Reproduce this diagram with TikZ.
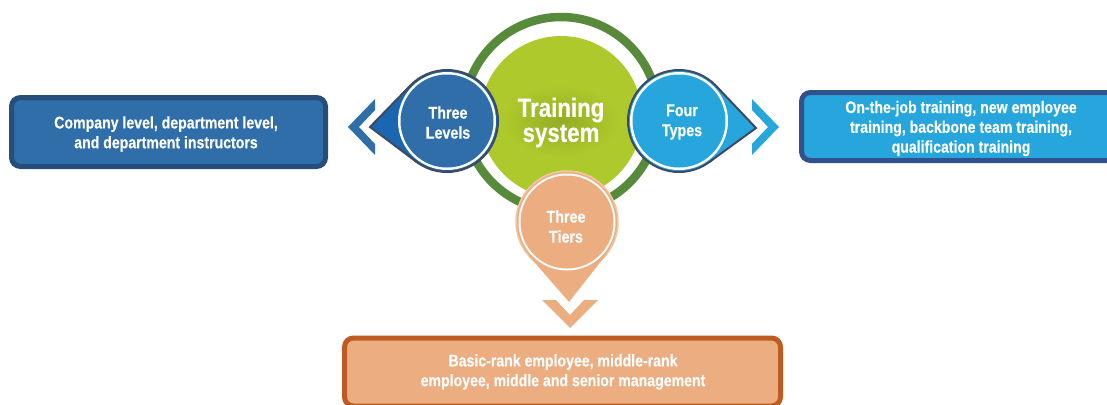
\documentclass[tikz,border=0pt]{standalone}
\usepackage{fontspec}
\setmainfont{Liberation Sans}
\newfontfamily\narrow[FakeStretch=0.84,FakeBold=0.3]{Liberation Sans}
\usetikzlibrary{calc}
\definecolor{ringgreen}{HTML}{578A3A}
\definecolor{diskgreen}{HTML}{AEC92B}
\definecolor{shadowgreen}{HTML}{95AD25}
\definecolor{lvblue}{HTML}{2F6EA9}
\definecolor{lvtip}{HTML}{1B66B0}
\definecolor{lvline}{HTML}{3D4A60}
\definecolor{ftblue}{HTML}{27A6DE}
\definecolor{tier}{HTML}{ECAD81}
\definecolor{tierline}{HTML}{F3C6A3}
\definecolor{lbborder}{HTML}{264E79}
\definecolor{rbborder}{HTML}{30518B}
\definecolor{bbborder}{HTML}{BE5B20}
\begin{document}
\begin{tikzpicture}[x=1pt,y=-1pt,
  boxstyle/.style={rounded corners=9pt, line width=5pt, align=center, text=white,
    font=\narrow\bfseries\fontsize{16.8}{19.8}\selectfont, inner sep=0pt},
  circstyle/.style={circle, inner sep=0pt, outer sep=0pt, minimum size=102pt},
  circtext/.style={text=white, align=center, font=\narrow\bfseries\fontsize{17}{20}\selectfont}
]
\useasboundingbox (0,0) rectangle (1107,404);
\clip (0,0) rectangle (1107,404);

% boxes
\node[boxstyle, draw=lbborder, fill=lvblue, minimum width=314pt, minimum height=69pt] (lb) at (168.5,132) {};
\node[boxstyle] (lbtext) at (166,134) {Company level, department level,\\and department instructors};
\node[boxstyle, draw=rbborder, fill=ftblue, minimum width=319pt, minimum height=68pt] (rb) at (961,126.5) {};
\node[boxstyle] (rbtext) at (961,128.5) {On-the-job training, new employee\\training, backbone team training,\\qualification training};
\node[boxstyle, draw=bbborder, fill=tier, minimum width=436pt, minimum height=68pt] (bb) at (562.5,372) {};
\node[boxstyle] (bbtext) at (563,372) {Basic-rank employee, middle-rank\\employee, middle and senior management};

% chevrons
\fill[lvblue] (375,99) -- (348,127) -- (375,155) -- (375,144) -- (359,127) -- (375,110) -- cycle;
\fill[ftblue] (752,99) -- (779,127) -- (752,155) -- (752,144) -- (768,127) -- (752,110) -- cycle;
\fill[tier] (542,300) -- (556,300) -- (570,315) -- (584,300) -- (598,300) -- (570,328) -- cycle;

% ring and central disk
\draw[ringgreen, line width=8.5pt] (561,114) circle[radius=97];
\node[circle, fill=diskgreen, minimum size=162pt, inner sep=0pt] (ts) at (561,117) {};
\shade[inner color=shadowgreen, outer color=diskgreen] (561,121) ellipse[x radius=58, y radius=36];
\node[text=white, align=center, font=\narrow\bfseries\fontsize{26.5}{25}\selectfont] (tstext) at (561,122.5) {Training\\system};

% Three Levels
\node[circstyle] (lv) at (447,121) {};
\coordinate (lvT) at (370,127);
\coordinate (lv1) at (tangent cs:node=lv,point={(lvT)},solution=1);
\coordinate (lv2) at (tangent cs:node=lv,point={(lvT)},solution=2);
\fill[lvtip, draw=lvline, line width=2pt] (lv) circle[radius=51];
\fill[lvtip] (lvT) -- (lv1) -- (lv.center) -- (lv2) -- cycle;
\draw[lvline, line width=2pt, line join=miter] (lv1) -- (lvT) -- (lv2);
\fill[white] (lv) circle[radius=49];
\fill[lvblue] (lv) circle[radius=46.5];
\node[circtext] (lvtext) at (448,122.5) {Three\\Levels};

% Four Types
\node[circstyle] (ft) at (679,121) {};
\coordinate (ftT) at (756,128);
\coordinate (ft1) at (tangent cs:node=ft,point={(ftT)},solution=1);
\coordinate (ft2) at (tangent cs:node=ft,point={(ftT)},solution=2);
\fill[ftblue, draw=lvline, line width=2pt] (ft) circle[radius=51];
\fill[ftblue] (ftT) -- (ft1) -- (ft.center) -- (ft2) -- cycle;
\draw[lvline, line width=2pt, line join=miter] (ft1) -- (ftT) -- (ft2);
\fill[white] (ft) circle[radius=49];
\fill[ftblue] (ft) circle[radius=46.5];
\node[circtext] (fttext) at (682,122) {Four\\Types};

% Three Tiers
\node[circstyle] (tt) at (567,222) {};
\coordinate (ttT) at (569,302);
\coordinate (tt1) at (tangent cs:node=tt,point={(ttT)},solution=1);
\coordinate (tt2) at (tangent cs:node=tt,point={(ttT)},solution=2);
\fill[tier, draw=tierline, line width=1.5pt] (tt) circle[radius=51];
\fill[tier] (ttT) -- (tt1) -- (tt.center) -- (tt2) -- cycle;
\fill[white] (tt) circle[radius=48.5];
\fill[tier] (tt) circle[radius=46.5];
\node[circtext] (tttext) at (566,226.5) {Three\\Tiers};
\end{tikzpicture}
\end{document}
